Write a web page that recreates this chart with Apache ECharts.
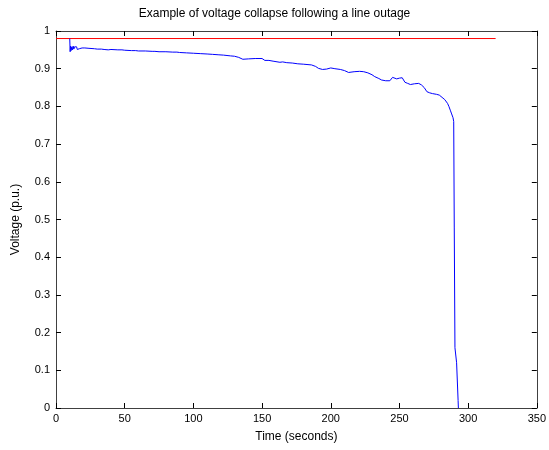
<!DOCTYPE html>
<html>
<head>
<meta charset="utf-8">
<script src="https://cdn.jsdelivr.net/npm/echarts@6/dist/echarts.min.js"></script>
<style>html,body{margin:0;padding:0;background:#fff}#c{width:549px;height:450px}</style>
</head>
<body>
<div id="c"></div>
<script>
var titleText = 'Example of voltage collapse following a line outage';
var xName = 'Time (seconds)';
var yName = 'Voltage (p.u.)';
var xTicks = [0, 50, 100, 150, 200, 250, 300, 350];
var yTicks = [0, 0.1, 0.2, 0.3, 0.4, 0.5, 0.6, 0.7, 0.8, 0.9, 1];

var refTime = [0, 320];
var refVoltage = [0.98, 0.98];

var voltTime = [10, 10.3, 10.6, 11, 11.5, 12, 12.5, 13, 13.5, 14, 15, 15.5, 16, 17, 17.5, 18, 19, 20, 21, 22, 24, 25, 28, 30, 33, 35, 38, 40, 45, 48, 50, 55, 58, 60, 65, 70, 72, 75, 80, 85, 88, 90, 95, 100, 105, 110, 114, 118, 122, 127, 130, 133, 136, 140, 145, 150, 152, 155, 158, 163, 165, 168, 172, 176, 180, 186, 189, 191, 194, 197, 200, 203, 207, 210, 213, 217, 221, 224, 227, 230, 232, 235, 237, 240, 243, 245, 248, 250, 252, 254, 256, 258, 261, 264, 266, 268, 270, 272, 274, 277, 279, 281, 283, 285, 286, 287, 288, 289, 289.5, 289.9, 290.4, 291.6, 292.7, 292.9];
var voltValue = [0.98, 0.945, 0.96, 0.948, 0.958, 0.95, 0.96, 0.952, 0.958, 0.953, 0.958, 0.951, 0.956, 0.953, 0.957, 0.952, 0.955, 0.952, 0.955, 0.953, 0.954, 0.952, 0.953, 0.952, 0.952, 0.951, 0.950, 0.951, 0.950, 0.950, 0.949, 0.948, 0.948, 0.947, 0.947, 0.946, 0.946, 0.945, 0.945, 0.944, 0.944, 0.943, 0.942, 0.941, 0.940, 0.939, 0.938, 0.937, 0.936, 0.934, 0.933, 0.930, 0.925, 0.926, 0.927, 0.927, 0.922, 0.922, 0.920, 0.917, 0.918, 0.916, 0.915, 0.913, 0.912, 0.910, 0.906, 0.901, 0.898, 0.899, 0.902, 0.900, 0.898, 0.895, 0.890, 0.892, 0.893, 0.892, 0.889, 0.884, 0.879, 0.874, 0.870, 0.868, 0.868, 0.877, 0.873, 0.875, 0.876, 0.864, 0.861, 0.858, 0.860, 0.861, 0.857, 0.850, 0.839, 0.836, 0.834, 0.832, 0.830, 0.824, 0.818, 0.808, 0.800, 0.790, 0.780, 0.770, 0.760, 0.48, 0.16, 0.12, 0.02, 0];

function pairs(xs, ys) { return xs.map(function (x, i) { return [x, ys[i]]; }); }

var font = 'Liberation Sans, Arial, sans-serif';
var axisCol = '#404040';
var chart = echarts.init(document.getElementById('c'), null, {renderer: 'canvas'});
function xAx(pos, show) {
  return {
    type: 'value', position: pos, min: xTicks[0], max: xTicks[xTicks.length - 1], interval: 50,
    name: show ? xName : '', nameLocation: 'middle', nameGap: 23,
    nameTextStyle: {fontFamily: font, fontSize: 12, color: '#000'},
    axisLine: {show: true, onZero: false, lineStyle: {color: axisCol, width: 1}},
    axisTick: {show: true, inside: true, length: 5, lineStyle: {color: '#000'}},
    axisLabel: {show: show, fontFamily: font, fontSize: 11, color: '#000', margin: 5},
    splitLine: {show: false}
  };
}
function yAx(pos, show) {
  return {
    type: 'value', position: pos, min: yTicks[0], max: yTicks[yTicks.length - 1], interval: 0.1,
    name: show ? yName : '', nameLocation: 'middle', nameGap: 34,
    nameTextStyle: {fontFamily: font, fontSize: 12, color: '#000'},
    axisLine: {show: true, onZero: false, lineStyle: {color: axisCol, width: 1}},
    axisTick: {show: true, inside: true, length: 5, lineStyle: {color: '#000'}},
    axisLabel: {show: show, fontFamily: font, fontSize: 11, color: '#000', margin: 6},
    splitLine: {show: false}
  };
}
chart.setOption({
  animation: false,
  backgroundColor: '#fff',
  title: {text: titleText, left: 'center', top: 3, textStyle: {fontFamily: font, fontSize: 12, fontWeight: 'normal', color: '#000'}},
  grid: {left: 56, top: 31, right: 12, bottom: 42, containLabel: false},
  xAxis: [xAx('bottom', true), xAx('top', false)],
  yAxis: [yAx('left', true), yAx('right', false)],
  series: [
    {type: 'line', data: pairs(refTime, refVoltage), showSymbol: false, lineStyle: {color: '#ff0000', width: 1}, silent: true},
    {type: 'line', data: pairs(voltTime, voltValue), showSymbol: false, lineStyle: {color: '#0000ff', width: 1}, silent: true}
  ]
});
</script>
</body>
</html>
